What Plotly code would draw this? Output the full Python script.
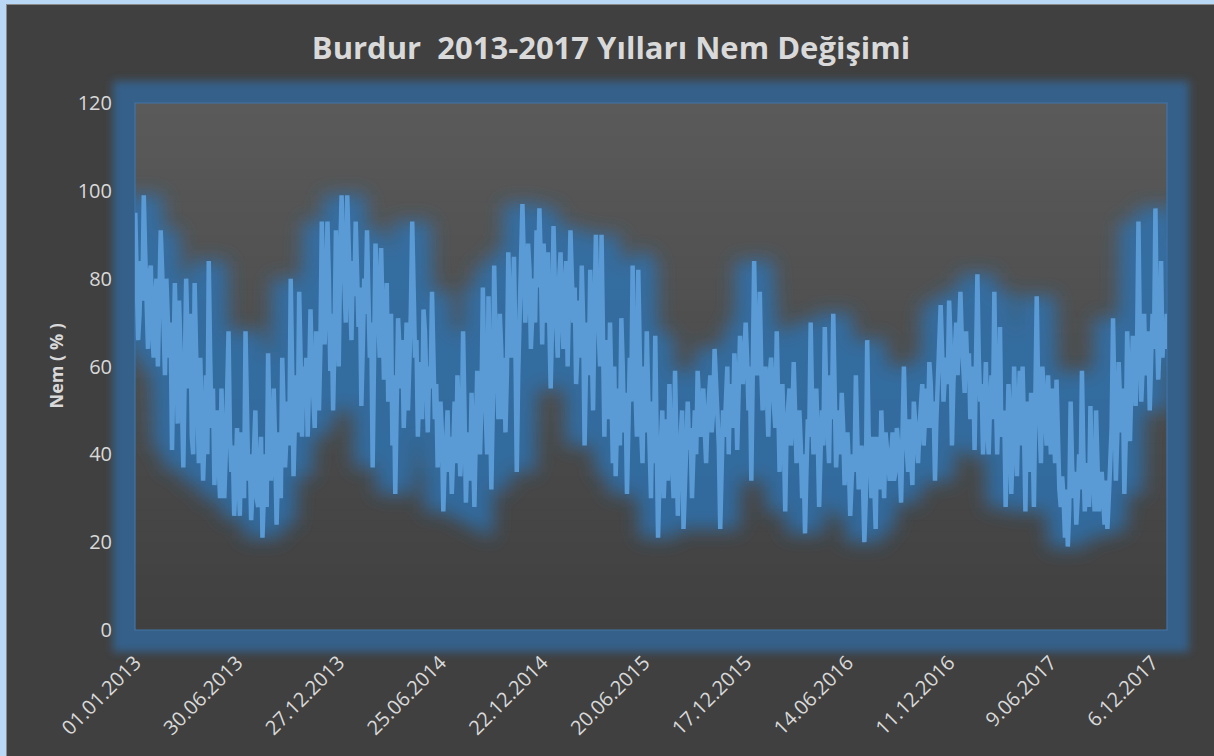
import plotly.graph_objects as go
import pandas as pd

# ---------------- data ----------------
title_text = "Burdur\u00a0 2013-2017 Yılları Nem Değişimi"
y_title = "Nem ( % )"

# relative humidity (%) read every 5 days starting 01.01.2013
hum_2013 = [95, 66, 84, 99, 72, 81, 68, 76, 60, 91, 70, 80,
            62, 41, 79, 47, 66, 37, 80, 55, 44, 79, 52, 62,
            34, 58, 84, 46, 33, 50, 30, 45, 40, 68, 36, 26,
            46, 26, 38, 68, 34, 25, 42, 30, 37, 21, 40, 63,
            34, 55, 24, 45, 62, 37, 52, 80, 35, 58, 77, 44,
            51, 44, 73, 52, 68, 50, 93, 65, 93, 59, 50, 91, 60]
hum_2014 = [99, 80, 99, 75, 84, 93, 69, 51, 80, 91, 62, 37,
            88, 70, 87, 57, 79, 65, 42, 31, 71, 55, 46, 70,
            58, 93, 62, 44, 61, 73, 50, 60, 77, 48, 37, 52,
            27, 42, 36, 31, 52, 58, 35, 68, 29, 45, 54, 28,
            59, 40, 78, 48, 76, 32, 83, 55, 72, 48, 45, 86,
            62, 85, 36, 75, 97, 70, 88, 64, 80, 91, 96, 65, 78]
hum_2015 = [86, 55, 92, 68, 80, 72, 78, 60, 91, 70, 56, 75,
            83, 42, 70, 82, 50, 90, 65, 90, 44, 58, 70, 38,
            35, 55, 71, 45, 31, 62, 83, 55, 82, 46, 60, 68,
            40, 52, 67, 21, 42, 30, 48, 56, 36, 59, 26, 44,
            23, 38, 41, 30, 50, 59, 44, 55, 38, 54, 45, 64,
            48, 23, 50, 55, 40, 52, 63, 41, 67, 56, 70, 50, 34]
hum_2016 = [84, 58, 77, 50, 60, 44, 62, 52, 68, 36, 56, 27,
            50, 42, 61, 38, 50, 30, 22, 48, 70, 40, 55, 28,
            50, 69, 44, 58, 72, 37, 50, 54, 33, 45, 26, 40,
            58, 32, 42, 20, 66, 35, 44, 23, 38, 50, 30, 42,
            34, 45, 36, 42, 29, 60, 40, 48, 33, 47, 38, 50,
            42, 55, 61, 46, 34, 58, 74, 52, 62, 75, 42, 64, 58]
hum_2017 = [77, 60, 68, 63, 55, 41, 81, 52, 40, 61, 40, 58,
            77, 40, 69, 47, 28, 56, 31, 60, 35, 59, 60, 27,
            45, 54, 28, 76, 44, 60, 48, 58, 40, 46, 57, 32,
            35, 21, 19, 52, 30, 24, 40, 59, 27, 38, 51, 33,
            50, 27, 36, 24, 23, 40, 71, 34, 61, 45, 31, 68,
            43, 67, 51, 93, 52, 72, 60, 50, 72, 96, 57, 84, 70, 72]

# readings half-way between the 5-day readings above (2.5 days later)
mid_2013 = [82, 72, 75, 86, 64, 83, 62, 80, 74, 82, 58, 72,
            70, 60, 64, 75, 52, 58, 66, 72, 40, 64, 38, 48,
            44, 40, 62, 55, 42, 38, 55, 30, 50, 44, 42, 34,
            36, 45, 30, 44, 40, 32, 50, 28, 44, 33, 28, 46,
            40, 42, 36, 30, 50, 44, 42, 60, 48, 45, 62, 60,
            62, 56, 60, 46, 62, 64, 78, 74, 80, 72, 66, 78, 85]
mid_2014 = [88, 70, 90, 66, 76, 80, 78, 64, 72, 76, 70, 62,
            80, 62, 74, 68, 52, 72, 58, 52, 64, 66, 56, 50,
            72, 70, 66, 55, 48, 68, 45, 55, 62, 56, 44, 45,
            38, 50, 44, 40, 38, 48, 42, 50, 40, 34, 42, 44,
            50, 52, 60, 40, 55, 50, 66, 48, 64, 62, 58, 72,
            70, 66, 58, 80, 84, 76, 82, 72, 70, 78, 84, 88, 70]
mid_2015 = [74, 70, 78, 62, 86, 64, 84, 72, 80, 78, 64, 62,
            70, 60, 58, 66, 72, 76, 60, 68, 66, 48, 56, 60,
            48, 42, 60, 54, 46, 52, 66, 44, 60, 38, 45, 54,
            30, 38, 44, 35, 50, 40, 34, 45, 30, 40, 38, 50,
            32, 52, 46, 42, 40, 52, 48, 46, 48, 58, 50, 56,
            42, 44, 44, 60, 56, 46, 56, 54, 60, 62, 62, 60, 58]
mid_2016 = [66, 64, 60, 56, 54, 58, 56, 46, 54, 48, 44, 46,
            55, 48, 52, 44, 42, 40, 36, 44, 52, 46, 44, 40,
            42, 54, 38, 48, 54, 45, 40, 46, 40, 38, 34, 36,
            44, 38, 34, 30, 45, 30, 36, 44, 32, 40, 45, 38,
            40, 34, 46, 38, 42, 46, 36, 42, 52, 44, 46, 56,
            50, 46, 56, 52, 48, 62, 64, 58, 56, 66, 56, 70, 66]
mid_2017 = [66, 54, 58, 48, 60, 58, 62, 56, 50, 46, 52, 48,
            55, 52, 44, 50, 42, 48, 42, 48, 50, 42, 46, 52,
            36, 46, 50, 55, 38, 52, 42, 50, 55, 38, 42, 28,
            30, 32, 28, 38, 36, 30, 32, 40, 34, 28, 36, 27,
            38, 32, 30, 34, 30, 46, 50, 44, 52, 55, 44, 58,
            56, 60, 64, 66, 60, 58, 68, 62, 64, 70, 66, 62, 64]

five_day = hum_2013 + hum_2014 + hum_2015 + hum_2016 + hum_2017
half_way = mid_2013 + mid_2014 + mid_2015 + mid_2016 + mid_2017
humidity = []
for a, b in zip(five_day, half_way + [None]):
    humidity.append(a)
    if b is not None:
        humidity.append(b)
dates = pd.date_range("2013-01-01", periods=len(humidity), freq="60h")

tick_dates = ["2013-01-01", "2013-06-30", "2013-12-27", "2014-06-25",
              "2014-12-22", "2015-06-20", "2015-12-17", "2016-06-14",
              "2016-12-11", "2017-06-09", "2017-12-06"]
tick_labels = ["01.01.2013", "30.06.2013", "27.12.2013", "25.06.2014",
               "22.12.2014", "20.06.2015", "17.12.2015", "14.06.2016",
               "11.12.2016", "9.06.2017", "6.12.2017"]
y_ticks = [0, 20, 40, 60, 80, 100, 120]

# ---------------- layout geometry ----------------
W, H = 1214, 756
L, T, R, B = 135, 103, 47, 126
PW, PH = W - L - R, H - T - B


def fx(px):
    return (px - L) / PW


def fy(py):
    return (H - B - py) / PH


FONT = "Open Sans"
TXT = "#d9d9d9"

fig = go.Figure()
# glow trace (blurred via SVG filter in post_script)
fig.add_trace(go.Scatter(x=dates, y=humidity, mode="lines",
                         line=dict(color="rgba(46,117,182,0.78)", width=38),
                         hoverinfo="skip", showlegend=False))
fig.add_trace(go.Scatter(x=dates, y=humidity, mode="lines",
                         line=dict(color="#5b9bd5", width=4.5),
                         showlegend=False))

shapes = []
# glow ring around plot area (shape index 0, blurred in post_script)
shapes.append(dict(type="rect", xref="paper", yref="paper", x0=0, x1=1, y0=0, y1=1,
                   line=dict(color="rgb(54,97,138)", width=44),
                   fillcolor="rgba(0,0,0,0)", layer="below"))
# vertical gradient inside plot area
n = 48
for k in range(n):
    t = (k + 0.5) / n
    c = int(round(64 + (90 - 64) * t))
    shapes.append(dict(type="rect", xref="paper", yref="paper", x0=0, x1=1,
                       y0=k / n, y1=min(1, (k + 1) / n + 0.003),
                       line=dict(width=0), fillcolor=f"rgb({c},{c},{c})", layer="below"))
shapes.append(dict(type="rect", xref="paper", yref="paper", x0=0, x1=1, y0=0, y1=1,
                   line=dict(color="#4274a6", width=1.2), fillcolor="rgba(0,0,0,0)", layer="below"))
# outer light-blue frame (left and top)
shapes.append(dict(type="rect", xref="paper", yref="paper", x0=fx(0), x1=fx(6), y0=fy(H), y1=fy(0),
                   line=dict(width=0), fillcolor="#b8d8f6", layer="below"))
shapes.append(dict(type="rect", xref="paper", yref="paper", x0=fx(0), x1=fx(W), y0=fy(4), y1=fy(0),
                   line=dict(width=0), fillcolor="#b8d8f6", layer="below"))
shapes.append(dict(type="line", xref="paper", yref="paper", x0=fx(6.5), x1=fx(6.5), y0=fy(H), y1=fy(4),
                   line=dict(color="#8a8a8a", width=1), layer="below"))
shapes.append(dict(type="line", xref="paper", yref="paper", x0=fx(6), x1=fx(W), y0=fy(4.5), y1=fy(4.5),
                   line=dict(color="#8a8a8a", width=1), layer="below"))

fig.update_layout(
    width=W, height=H,
    margin=dict(l=L, r=R, t=T, b=B, autoexpand=False),
    paper_bgcolor="#404040", plot_bgcolor="#404040",
    font=dict(family=FONT, color=TXT),
    title=dict(text=title_text, x=611 / W, xanchor="center", y=1 - 48 / H, yanchor="middle",
               font=dict(family=FONT, size=31, color=TXT, weight="bold")),
    shapes=shapes,
    annotations=[dict(text=y_title, textangle=-90, xref="paper", yref="paper",
                      x=fx(55), y=0.5, xanchor="center", yanchor="middle", showarrow=False,
                      font=dict(family=FONT, size=18, color=TXT, weight="bold"))],
    xaxis=dict(type="date", range=["2012-12-31 12:00", "2017-12-31 12:00"],
               tickmode="array", tickvals=tick_dates, ticktext=tick_labels,
               tickangle=-45, tickfont=dict(size=20, color=TXT),
               showgrid=False, zeroline=False, showline=False,
               ticks="outside", ticklen=12, tickcolor="rgba(0,0,0,0)"),
    yaxis=dict(range=[0, 120], tickmode="array", tickvals=y_ticks,
               tickfont=dict(size=20, color=TXT),
               showgrid=False, zeroline=False, showline=False,
               ticks="outside", ticklen=18, tickcolor="rgba(0,0,0,0)"),
)

post_js = """
document.body.style.margin = '0';
document.body.style.background = '#404040';
var gd = document.getElementById('{plot_id}');
function addFilter(svg, id, sd) {
  var ns = 'http://www.w3.org/2000/svg';
  if (document.getElementById(id)) return;
  var defs = svg.querySelector('defs');
  if (!defs) { defs = document.createElementNS(ns, 'defs'); svg.insertBefore(defs, svg.firstChild); }
  var f = document.createElementNS(ns, 'filter');
  f.setAttribute('id', id);
  f.setAttribute('x', '-20%'); f.setAttribute('y', '-30%');
  f.setAttribute('width', '140%'); f.setAttribute('height', '160%');
  var b = document.createElementNS(ns, 'feGaussianBlur');
  b.setAttribute('stdDeviation', sd);
  f.appendChild(b); defs.appendChild(f);
}
function applyGlow() {
  var svg = gd.querySelector('svg.main-svg');
  if (!svg) return;
  addFilter(svg, 'lineglow', '9');
  addFilter(svg, 'ringglow', '4.5');
  var tr = gd.querySelectorAll('g.scatterlayer g.trace');
  if (tr.length) {
    var p = tr[0].querySelector('path.js-line');
    if (p) p.setAttribute('filter', 'url(#lineglow)');
  }
  var ring = gd.querySelector('.shapelayer path[data-index="0"]');
  if (ring) ring.setAttribute('filter', 'url(#ringglow)');
}
applyGlow();
if (gd.on) gd.on('plotly_afterplot', applyGlow);
setTimeout(applyGlow, 50);
"""

fig.write_html("out.html", post_script=post_js, config={"displayModeBar": False})
